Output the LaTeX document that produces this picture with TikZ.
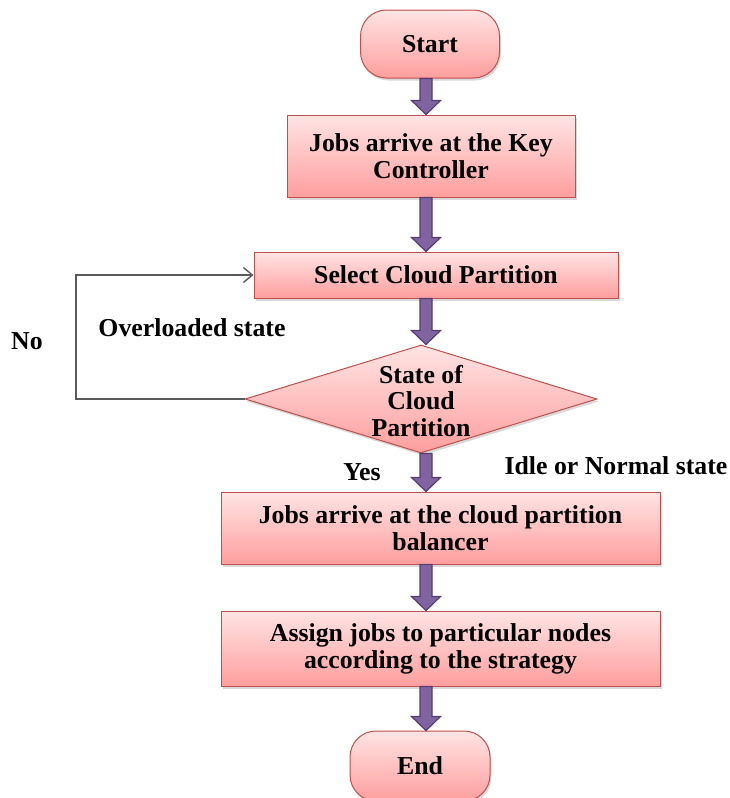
\documentclass[tikz,border=0pt]{standalone}
\usepackage{fontspec}
\setmainfont{Liberation Serif}
\usetikzlibrary{shapes.geometric,shadows,calc,arrows.meta}

\definecolor{boxline}{RGB}{192,80,77}
\definecolor{boxtop}{RGB}{255,228,228}
\definecolor{boxbot}{RGB}{255,158,158}
\definecolor{arrfill}{RGB}{128,100,162}
\definecolor{arrline}{RGB}{84,62,112}
\definecolor{loopgray}{RGB}{90,90,90}

\tikzset{
  stepbox/.style={rectangle, draw=boxline, line width=1pt, top color=boxtop, bottom color=boxbot,
    drop shadow={shadow xshift=1.5pt, shadow yshift=-2.5pt, opacity=.3},
    align=center, inner sep=0pt, font=\fontsize{25.8}{27}\selectfont\bfseries},
  termbox/.style={stepbox, rounded corners=26pt},
  decbox/.style={stepbox, diamond, aspect=3.2},
  fatarrow/.style={fill=arrfill, draw=arrline, line width=1.2pt, line join=miter},
  lbl/.style={font=\fontsize{25.8}{27}\selectfont\bfseries, inner sep=0pt}
}

\newcommand{\fatarr}[2]{%
  \filldraw[fatarrow] ($(#1.south -| spine)+(-6,0)$) -- ($(#2.north -| spine)+(-6,-14)$)
    -- ($(#2.north -| spine)+(-14.5,-14)$) -- (#2.north -| spine)
    -- ($(#2.north -| spine)+(14.5,-14)$) -- ($(#2.north -| spine)+(6,-14)$)
    -- ($(#1.south -| spine)+(6,0)$) -- cycle;}

\begin{document}
\begin{tikzpicture}[x=1pt,y=-1pt]
\useasboundingbox (0,0) rectangle (730,798);
\coordinate (spine) at (426,0);

% boxes
\node[termbox, minimum width=139, minimum height=68] (start) at (430,44) {Start};
\node[stepbox, minimum width=288, minimum height=82] (key) at (431,156) {Jobs arrive at the Key\\Controller};
\node[stepbox, minimum width=364, minimum height=46] (sel) at (436,275) {Select Cloud Partition};
\node[decbox, minimum width=352, minimum height=108] (dia) at (421,399) {};
\node[lbl, align=center, font=\fontsize{25.8}{26.5}\selectfont\bfseries] (diatext) at (421,401) {State of\\Cloud\\Partition};
\node[stepbox, minimum width=439, minimum height=72] (bal) at (440.5,528) {Jobs arrive at the cloud partition\\balancer};
\node[stepbox, minimum width=439, minimum height=75] (assign) at (440.5,648.5) {Assign jobs to particular nodes\\according to the strategy};
\node[termbox, minimum width=140, minimum height=70] (end) at (420,766) {End};

% arrows
\fatarr{start}{key}
\fatarr{key}{sel}
\fatarr{sel}{dia}
\fatarr{dia}{bal}
\fatarr{bal}{assign}
\fatarr{assign}{end}

% overloaded loop
\coordinate (lp) at (76,275);
\draw[loopgray, line width=1.4pt, -{Straight Barb[length=9pt,width=15pt]}] (dia.west) -| (lp) -- (sel.west);

% labels
\node[lbl] (no) at (27,341) {No};
\node[lbl] (over) at (192,328) {Overloaded state};
\node[lbl] (yes) at (362,472) {Yes};
\node[lbl] (idle) at (616,466) {Idle or Normal state};
\end{tikzpicture}
\end{document}
